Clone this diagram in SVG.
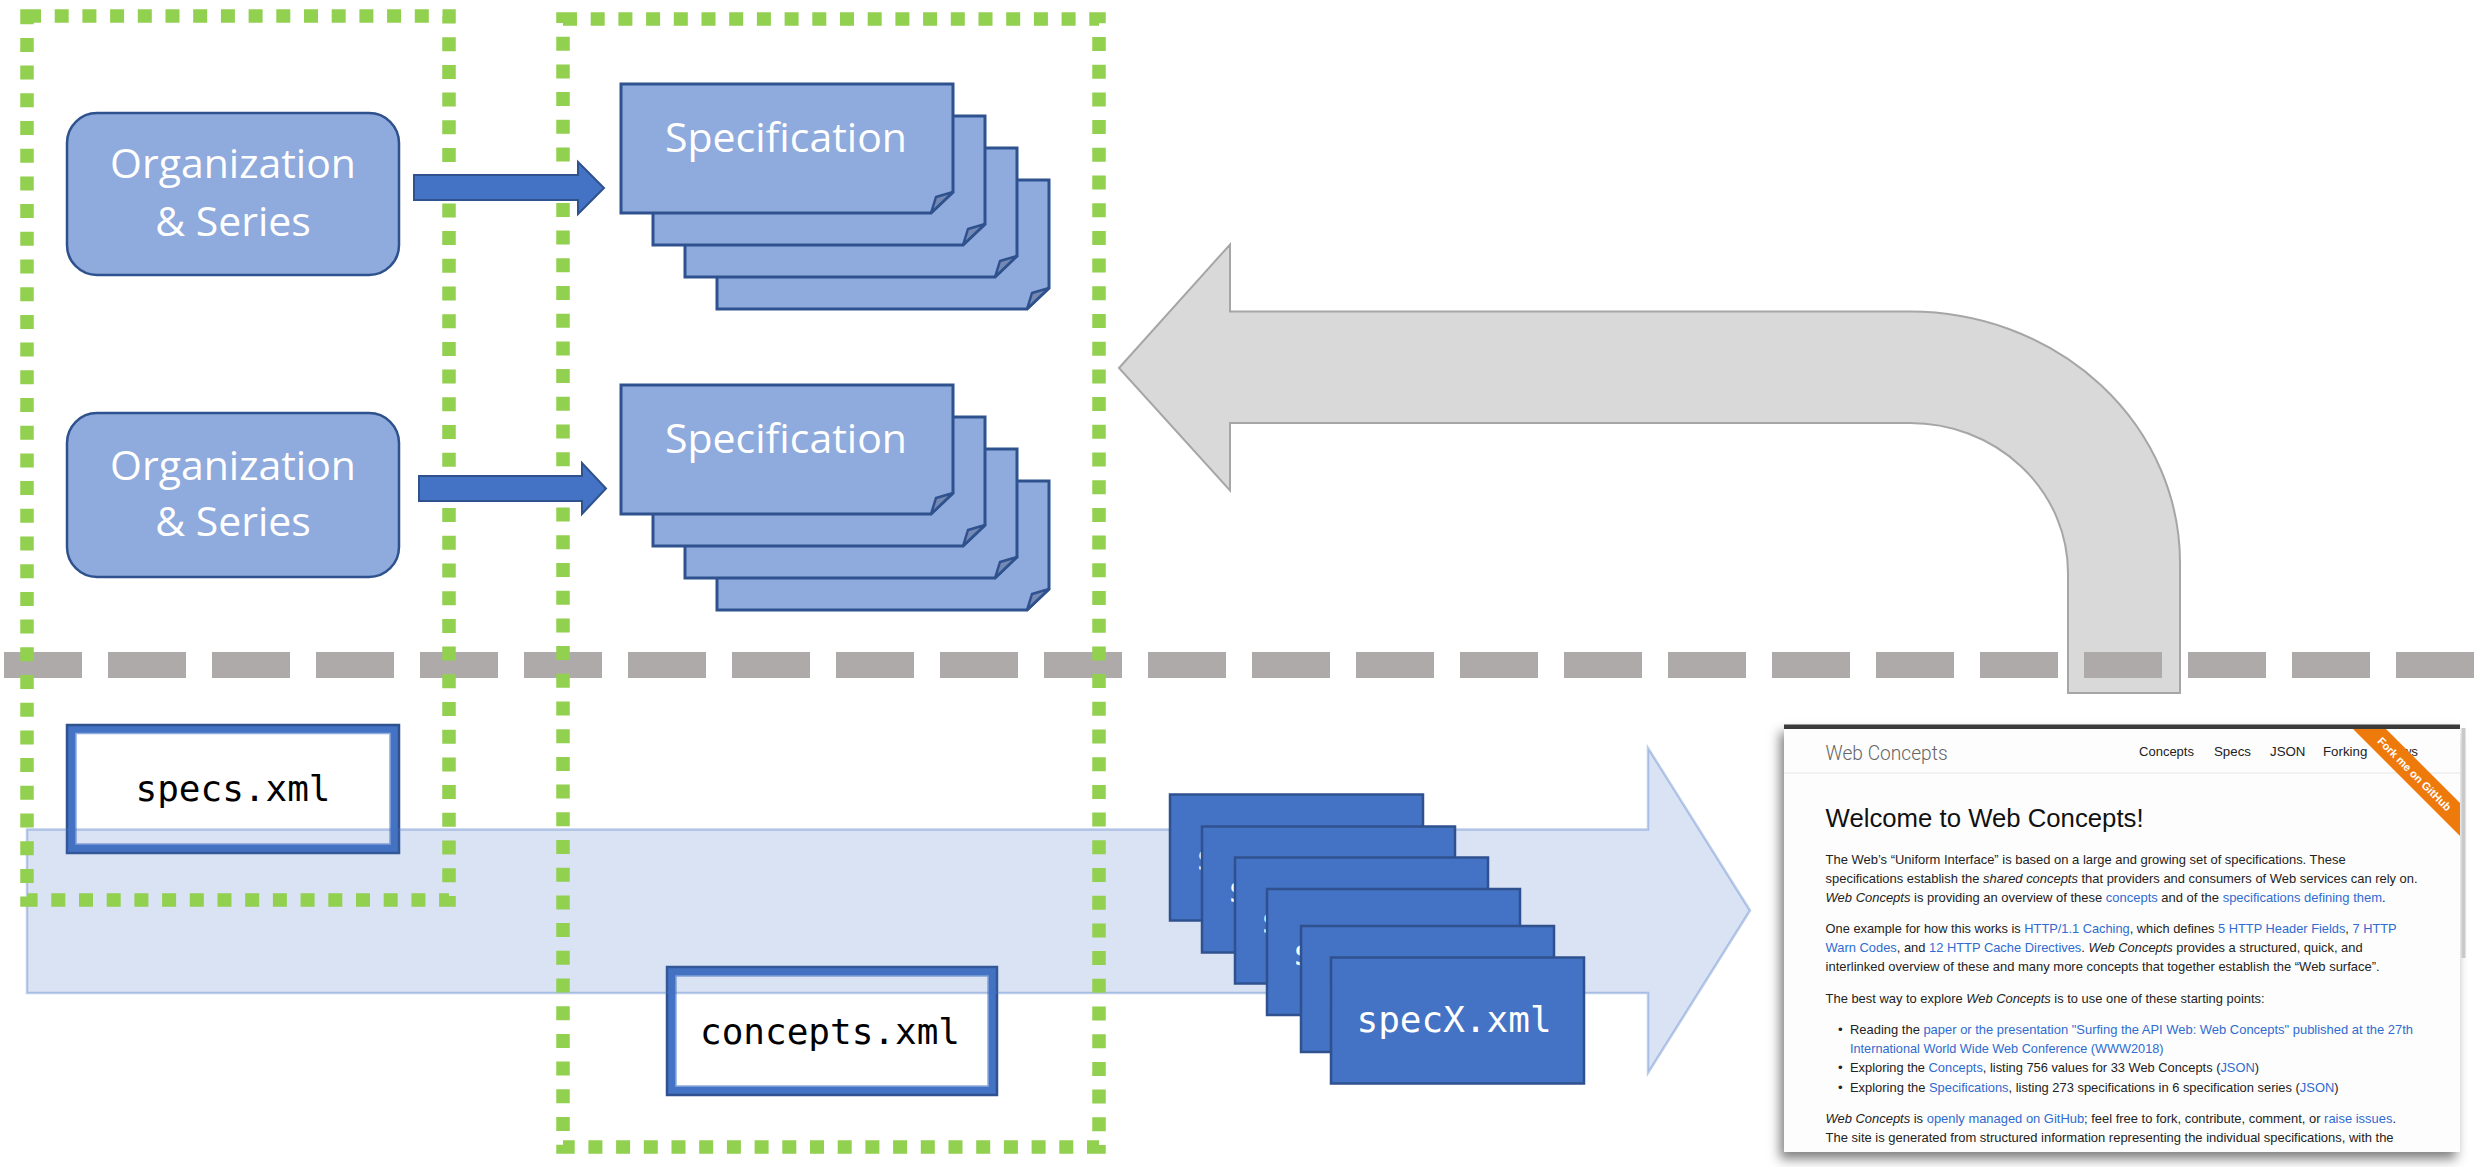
<svg xmlns="http://www.w3.org/2000/svg" width="2479" height="1167" viewBox="0 0 2479 1167">
<style>
.org{fill:#8FAADC;stroke:#2F528F;stroke-width:2.5}
.sheet{fill:#8FAADC;stroke:#2F528F;stroke-width:3}
.fold{fill:#7489B3;stroke:#2F528F;stroke-width:2.5;stroke-linejoin:round}
.wt{fill:#FFFFFF;font-family:"Open Sans","Noto Sans",sans-serif;font-size:41px;text-anchor:middle}
.frame{fill:#4472C4;stroke:#2F528F;stroke-width:2.5}
.inner{fill:#FFFFFF;stroke:#8FAADC;stroke-width:1.5}
.mono{font-family:"DejaVu Sans Mono","Liberation Mono",monospace;font-size:36px}
.xsheet{fill:#4472C4;stroke:#2F528F;stroke-width:2.5}
.green{fill:none;stroke:#92D050;stroke-width:13.5;stroke-dasharray:14 13.7}
.barrow{fill:#4472C4;stroke:#2F528F;stroke-width:2}
.web{font-family:"Liberation Sans",Arial,sans-serif;font-size:13.3px;fill:#222}
.l{fill:#2F6BD0}
.i{font-style:italic}
</style>
<defs>
<filter id="shadow" x="-5%" y="-5%" width="110%" height="115%">
<feDropShadow dx="-4" dy="7" stdDeviation="6" flood-color="#000" flood-opacity="0.5"/>
</filter>
<g id="specsheet">
<path class="sheet" d="M0,0 H332 V108 L310,129 H0 Z"/>
<path class="fold" d="M310,129 L315,113 L332,108 Z"/>
</g>
</defs>

<rect width="2479" height="1167" fill="#FFFFFF"/>

<!-- grey U-turn arrow -->
<g id="return-arrow">
<path d="M1119,368 L1230,244.5 V311.6 H1910 A270,251 0 0 1 2180,563 V693 H2068 V573 A158,150 0 0 0 1910,423 H1230 V490.5 Z" fill="#D9D9D9" stroke="#A6A6A6" stroke-width="2"/>
</g>

<!-- separator -->
<line x1="4" y1="665" x2="2479" y2="665" stroke="#AEAAAA" stroke-width="26" stroke-dasharray="78 26"/>

<!-- organization nodes -->
<g id="org1">
<rect class="org" x="67" y="113" width="332" height="162" rx="30"/>
<text class="wt" x="233" y="178">Organization</text>
<text class="wt" x="233" y="236">&amp; Series</text>
</g>
<g id="org2">
<rect class="org" x="67" y="413" width="332" height="164" rx="30"/>
<text class="wt" x="233" y="480">Organization</text>
<text class="wt" x="233" y="536">&amp; Series</text>
</g>

<!-- specification stacks -->
<g id="spec-stack1">
<use href="#specsheet" x="717" y="180"/>
<use href="#specsheet" x="685" y="148"/>
<use href="#specsheet" x="653" y="116"/>
<use href="#specsheet" x="621" y="84"/>
<text class="wt" x="786" y="152">Specification</text>
</g>
<g id="spec-stack2">
<use href="#specsheet" x="717" y="481"/>
<use href="#specsheet" x="685" y="449"/>
<use href="#specsheet" x="653" y="417"/>
<use href="#specsheet" x="621" y="385"/>
<text class="wt" x="786" y="453">Specification</text>
</g>

<!-- files -->
<g id="specs-xml">
<rect class="frame" x="67" y="725" width="332" height="128"/>
<rect class="inner" x="76" y="733.5" width="314" height="110.5"/>
<text class="mono" x="233" y="800.5" text-anchor="middle" fill="#000">specs.xml</text>
</g>
<g id="concepts-xml">
<rect class="frame" x="667" y="967" width="330" height="128"/>
<rect class="inner" x="676" y="976" width="312" height="110"/>
<text class="mono" x="830" y="1044" text-anchor="middle" fill="#000">concepts.xml</text>
</g>

<!-- big flow arrow (translucent) -->
<g id="flow-arrow">
<path d="M27,829.5 H1648 V748 L1750,910.5 L1648,1073 V993 H27 Z" fill="#4472C4" fill-opacity="0.2" stroke="#4472C4" stroke-opacity="0.35" stroke-width="2.5"/>
</g>

<!-- specX stack -->
<g id="specx-stack">
<rect class="xsheet" x="1170" y="794.5" width="253" height="126"/>
<text class="mono" x="1195.5" y="870" fill="#FFF">s</text>
<rect class="xsheet" x="1202" y="826.5" width="253" height="126"/>
<text class="mono" x="1227.5" y="902" fill="#FFF">s</text>
<rect class="xsheet" x="1235" y="857.5" width="253" height="126"/>
<text class="mono" x="1260.5" y="933" fill="#FFF">s</text>
<rect class="xsheet" x="1267" y="889" width="253" height="126"/>
<text class="mono" x="1292.5" y="964.5" fill="#FFF">s</text>
<rect class="xsheet" x="1301" y="926" width="253" height="126"/>
<text class="mono" x="1326.5" y="1001.5" fill="#FFF">s</text>
<rect class="xsheet" x="1331" y="957.5" width="253" height="126"/>
<text class="mono" x="1356.5" y="1032" fill="#FFF">specX.xml</text>
</g>

<!-- green groupings -->
<g id="group-left">
<rect class="green" x="27" y="16" width="422" height="884"/>
</g>
<g id="group-right">
<rect class="green" x="563" y="19" width="536" height="1128"/>
</g>

<!-- connectors -->
<g id="connectors">
<path class="barrow" d="M414,175 H578 V162 L604,188 L578,214 V200 H414 Z"/>
<path class="barrow" d="M419,476 H582 V463 L606,488.5 L582,514 V501 H419 Z"/>
</g>

<!-- website screenshot -->
<g id="screenshot">
<rect x="1784" y="725" width="676" height="427" fill="#FDFDFD" filter="url(#shadow)"/>
<rect x="1784" y="724.5" width="676" height="4.5" fill="#3A3A3A"/>
<line x1="1784" y1="773" x2="2460" y2="773" stroke="#E6E6E6" stroke-width="1.2"/>
<rect x="2461.5" y="728" width="4" height="230" fill="#C9C9C9"/>
<text x="1825.6" y="759.5" font-family="Roboto,'Liberation Sans',sans-serif" font-weight="300" font-size="21" fill="#666" textLength="122" lengthAdjust="spacingAndGlyphs">Web Concepts</text>
<text class="web" x="2139" y="756" textLength="55" lengthAdjust="spacingAndGlyphs">Concepts</text>
<text class="web" x="2214" y="756">Specs</text>
<text class="web" x="2270" y="756">JSON</text>
<text class="web" x="2323" y="756">Forking</text>
<text class="web" x="2418" y="756" text-anchor="end">News</text>
<polygon points="2353,729 2386,729 2460,803 2460,836" fill="#EF7A0C"/>
<text x="2414.5" y="774" transform="rotate(45 2414.5 774)" font-family="'Liberation Sans',Arial,sans-serif" font-weight="bold" font-size="11" fill="#FFF" text-anchor="middle" dy="4">Fork me on GitHub</text>
<text x="1825.6" y="827" font-family="'Liberation Sans',Arial,sans-serif" font-size="25.7" fill="#111" textLength="318" lengthAdjust="spacingAndGlyphs">Welcome to Web Concepts!</text>
<text class="web" x="1825.6" y="863.5" textLength="520" lengthAdjust="spacingAndGlyphs">The Web’s “Uniform Interface” is based on a large and growing set of specifications. These</text>
<text class="web" x="1825.6" y="882.9" textLength="592" lengthAdjust="spacingAndGlyphs">specifications establish the <tspan class="i">shared concepts</tspan> that providers and consumers of Web services can rely on.</text>
<text class="web" x="1825.6" y="902.2" textLength="560" lengthAdjust="spacingAndGlyphs"><tspan class="i">Web Concepts</tspan> is providing an overview of these <tspan class="l">concepts</tspan> and of the <tspan class="l">specifications defining them</tspan>.</text>
<text class="web" x="1825.6" y="932.5" textLength="571" lengthAdjust="spacingAndGlyphs">One example for how this works is <tspan class="l">HTTP/1.1 Caching</tspan>, which defines <tspan class="l">5 HTTP Header Fields</tspan>, <tspan class="l">7 HTTP</tspan></text>
<text class="web" x="1825.6" y="951.9" textLength="537" lengthAdjust="spacingAndGlyphs"><tspan class="l">Warn Codes</tspan>, and <tspan class="l">12 HTTP Cache Directives</tspan>. <tspan class="i">Web Concepts</tspan> provides a structured, quick, and</text>
<text class="web" x="1825.6" y="971.2" textLength="554" lengthAdjust="spacingAndGlyphs">interlinked overview of these and many more concepts that together establish the “Web surface”.</text>
<text class="web" x="1825.6" y="1002.6" textLength="439" lengthAdjust="spacingAndGlyphs">The best way to explore <tspan class="i">Web Concepts</tspan> is to use one of these starting points:</text>
<text class="web" x="1838" y="1033.6">•</text>
<text class="web" x="1850" y="1033.6" textLength="563" lengthAdjust="spacingAndGlyphs">Reading the <tspan class="l">paper or the presentation "Surfing the API Web: Web Concepts" published at the 27th</tspan></text>
<text class="web l" x="1850" y="1052.9" textLength="313.5" lengthAdjust="spacingAndGlyphs">International World Wide Web Conference (WWW2018)</text>
<text class="web" x="1838" y="1072.2">•</text>
<text class="web" x="1850" y="1072.2" textLength="409" lengthAdjust="spacingAndGlyphs">Exploring the <tspan class="l">Concepts</tspan>, listing 756 values for 33 Web Concepts (<tspan class="l">JSON</tspan>)</text>
<text class="web" x="1838" y="1091.6">•</text>
<text class="web" x="1850" y="1091.6" textLength="488.6" lengthAdjust="spacingAndGlyphs">Exploring the <tspan class="l">Specifications</tspan>, listing 273 specifications in 6 specification series (<tspan class="l">JSON</tspan>)</text>
<text class="web" x="1825.6" y="1123" textLength="570.4" lengthAdjust="spacingAndGlyphs"><tspan class="i">Web Concepts</tspan> is <tspan class="l">openly managed on GitHub</tspan>; feel free to fork, contribute, comment, or <tspan class="l">raise issues</tspan>.</text>
<text class="web" x="1825.6" y="1142" textLength="568" lengthAdjust="spacingAndGlyphs">The site is generated from structured information representing the individual specifications, with the</text>
</g>
</svg>
